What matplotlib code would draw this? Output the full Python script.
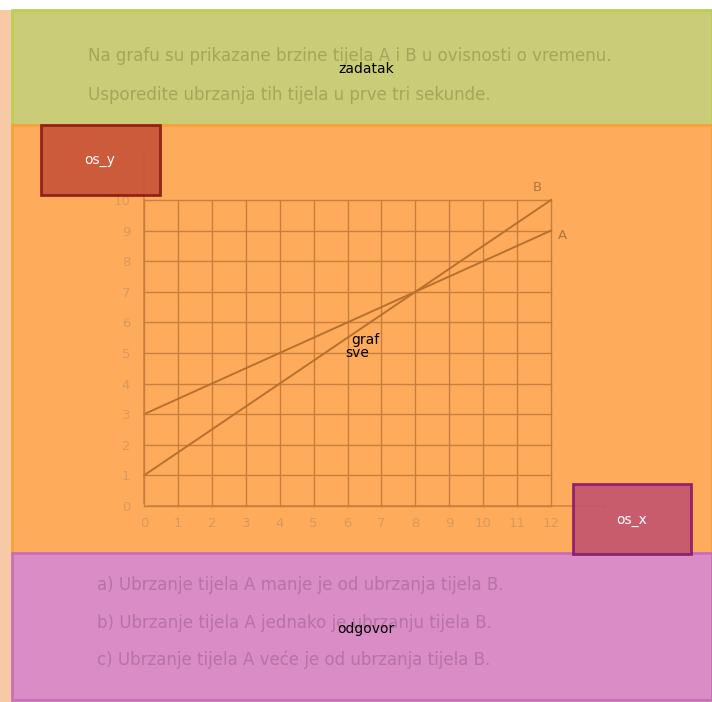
import matplotlib.pyplot as plt
from matplotlib.patches import Rectangle

# ============================== data ================================ #

t_line = [0, 12]            # time, s
v_a = [3, 9]                # body A, m/s
v_b = [1, 10]               # body B, m/s
x_ticks = list(range(0, 13))
y_ticks = list(range(0, 11))

question = ["Na grafu su prikazane brzine tijela A i B u ovisnosti o vremenu.",
            "Usporedite ubrzanja tih tijela u prve tri sekunde."]
answers = ["a) Ubrzanje tijela A manje je od ubrzanja tijela B.",
           "b) Ubrzanje tijela A jednako je ubrzanju tijela B.",
           "c) Ubrzanje tijela A veće je od ubrzanja tijela B."]

# ============================== colours ============================= #

GREEN, GREEN_EDGE = "#cbcc78", "#b9cf55"
ORANGE, ORANGE_EDGE = "#ffab5c", "#f5a23a"
PINK, PINK_EDGE = "#da8cc6", "#c96fb4"
GRID = "#c77f3c"
LINE = "#b8712c"
TICK = "#d89a5c"

W, H = 712, 702
fig = plt.figure(figsize=(W / 100, H / 100), dpi=100)
fig.patch.set_facecolor("white")

# background layer, pixel coordinates
bg = fig.add_axes([0, 0, 1, 1], zorder=0)
bg.set_xlim(0, W)
bg.set_ylim(H, 0)
bg.axis("off")

bg.add_patch(Rectangle((0, 10), 12, 692, facecolor="#f7c9a6", edgecolor="none"))
bg.add_patch(Rectangle((12, 10), 700, 115, facecolor=GREEN, edgecolor=GREEN_EDGE, lw=2))
bg.add_patch(Rectangle((12, 125), 700, 428, facecolor=ORANGE, edgecolor=ORANGE_EDGE, lw=2))
bg.add_patch(Rectangle((12, 553), 700, 147, facecolor=PINK, edgecolor=PINK_EDGE, lw=2))

for i, line in enumerate(question):
    bg.text(88, 56 + i * 39, line, fontsize=12, color="#a6a65a", va="center", ha="left")
for i, line in enumerate(answers):
    bg.text(97, 585 + i * 37.5, line, fontsize=12, color="#b673a4", va="center", ha="left")

# ============================== chart =============================== #

ax = fig.add_axes([144 / W, 1 - 506 / H, 407 / W, 306 / H], zorder=1)
ax.set_facecolor("none")
ax.set_xlim(0, 12)
ax.set_ylim(0, 10)
ax.set_xticks(x_ticks)
ax.set_yticks(y_ticks)
ax.tick_params(length=0, labelsize=9.5, labelcolor=TICK)
ax.tick_params(axis="x", pad=8)
ax.tick_params(axis="y", pad=10)
ax.grid(True, color=GRID, lw=1)
for gl in ax.get_xgridlines() + ax.get_ygridlines():
    gl.set_clip_on(False)
for s in ax.spines.values():
    s.set_visible(False)

ax.plot(t_line, v_a, color=LINE, lw=1.4, clip_on=False, zorder=3)
ax.plot(t_line, v_b, color=LINE, lw=1.4, clip_on=False, zorder=3)
ax.text(11.6, 10.4, "B", fontsize=9.5, color="#b0763e", ha="center", va="center")
ax.text(12.35, 8.85, "A", fontsize=9.5, color="#b0763e", ha="center", va="center")

# axis arrows and units
ax.annotate("", xy=(0, 11.8), xytext=(0, 0), annotation_clip=False,
            arrowprops=dict(arrowstyle="-|>", color=GRID, lw=1, mutation_scale=8))
ax.annotate("", xy=(13.8, 0), xytext=(0, 0), annotation_clip=False,
            arrowprops=dict(arrowstyle="-|>", color=GRID, lw=1, mutation_scale=8))
ax.text(-0.55, 11.45, r"$\frac{m}{s}$", fontsize=11, color=TICK, ha="center", va="center")
ax.text(13.5, -0.45, "t / s", fontsize=9, color=TICK, ha="center", va="center")

# ============================== overlay ============================= #

top = fig.add_axes([0, 0, 1, 1], zorder=2)
top.set_xlim(0, W)
top.set_ylim(H, 0)
top.axis("off")
top.set_facecolor("none")

top.add_patch(Rectangle((41, 125), 119, 70, facecolor="#c8553a", edgecolor="#8c1c12",
                        lw=2, alpha=0.93))
top.add_patch(Rectangle((573, 484), 118, 70, facecolor="#c4566e", edgecolor="#8a1c6a",
                        lw=2, alpha=0.93))

top.text(100, 160, "os_y", fontsize=10, color="white", ha="center", va="center")
top.text(632, 520, "os_x", fontsize=10, color="white", ha="center", va="center")
top.text(366, 69, "zadatak", fontsize=10, color="black", ha="center", va="center")
top.text(365, 340, "graf", fontsize=10, color="black", ha="center", va="center")
top.text(357, 353, "sve", fontsize=10, color="black", ha="center", va="center")
top.text(366, 629, "odgovor", fontsize=10, color="black", ha="center", va="center")

fig.savefig("out.png", dpi=100)
